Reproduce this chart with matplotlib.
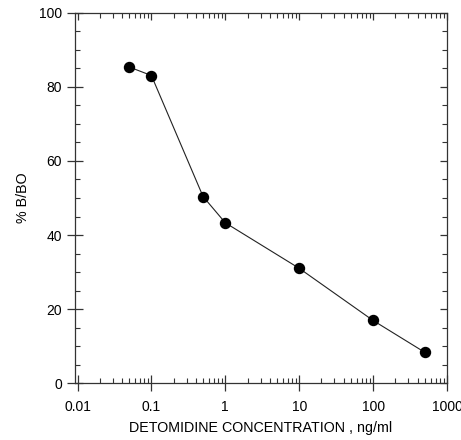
import matplotlib
matplotlib.use('Agg')
import matplotlib.pyplot as plt
from matplotlib.ticker import LogLocator, MultipleLocator, FixedLocator, FixedFormatter, NullFormatter

plt.rcParams['font.family'] = ['Liberation Sans', 'DejaVu Sans']

# 数据
concentration = [0.05, 0.1, 0.5, 1, 10, 100, 500]
b_bo = [85.4, 83.1, 50.4, 43.3, 31.0, 16.9, 8.3]
x_ticks = [0.01, 0.1, 1, 10, 100, 1000]
x_tick_labels = ['0.01', '0.1', '1', '10', '100', '1000']

fig = plt.figure(figsize=(4.61, 4.40), dpi=100)
ax = fig.add_axes([0.1627, 0.1295, 0.8069, 0.841])

ax.plot(concentration, b_bo, color='#222222', linewidth=0.8,
        marker='o', markersize=7.2, markerfacecolor='black', markeredgecolor='black')

ax.set_xscale('log')
ax.set_xlim(0.00925, 1000)
ax.set_ylim(0, 100)


def set_locators(axis_x, axis_y):
    if axis_x is not None:
        axis_x.set_major_locator(FixedLocator(x_ticks))
        axis_x.set_minor_locator(LogLocator(base=10, subs=range(2, 10), numticks=20))
        axis_x.set_minor_formatter(NullFormatter())
    if axis_y is not None:
        axis_y.set_major_locator(MultipleLocator(20))
        axis_y.set_minor_locator(MultipleLocator(5))


set_locators(ax.xaxis, ax.yaxis)
ax.xaxis.set_major_formatter(FixedFormatter(x_tick_labels))

for s in ax.spines.values():
    s.set_color('#333333')
    s.set_linewidth(0.9)

# 左/下：主刻度穿过坐标轴，次刻度向内
ax.tick_params(which='major', direction='inout', length=11, width=0.9, color='#333333',
               labelsize=10, pad=4)
ax.tick_params(which='minor', direction='in', length=3.5, width=0.8, color='#333333')
ax.tick_params(axis='x', which='major', pad=7)

# 上/右：刻度只向内
top = ax.secondary_xaxis('top')
set_locators(top.xaxis, None)
top.xaxis.set_major_formatter(NullFormatter())
top.tick_params(which='major', direction='in', length=5, width=0.9, color='#333333')
top.tick_params(which='minor', direction='in', length=3.5, width=0.8, color='#333333')
top.spines['top'].set_visible(False)

right = ax.secondary_yaxis('right')
set_locators(None, right.yaxis)
right.yaxis.set_major_formatter(NullFormatter())
right.tick_params(which='major', direction='in', length=5, width=0.9, color='#333333')
right.tick_params(which='minor', direction='in', length=3.5, width=0.8, color='#333333')
right.spines['right'].set_visible(False)

ax.set_xlabel('DETOMIDINE CONCENTRATION , ng/ml', fontsize=10.3, labelpad=5)
ax.set_ylabel('% B/BO', fontsize=10.3, labelpad=6)

fig.savefig('out.png', dpi=100)
